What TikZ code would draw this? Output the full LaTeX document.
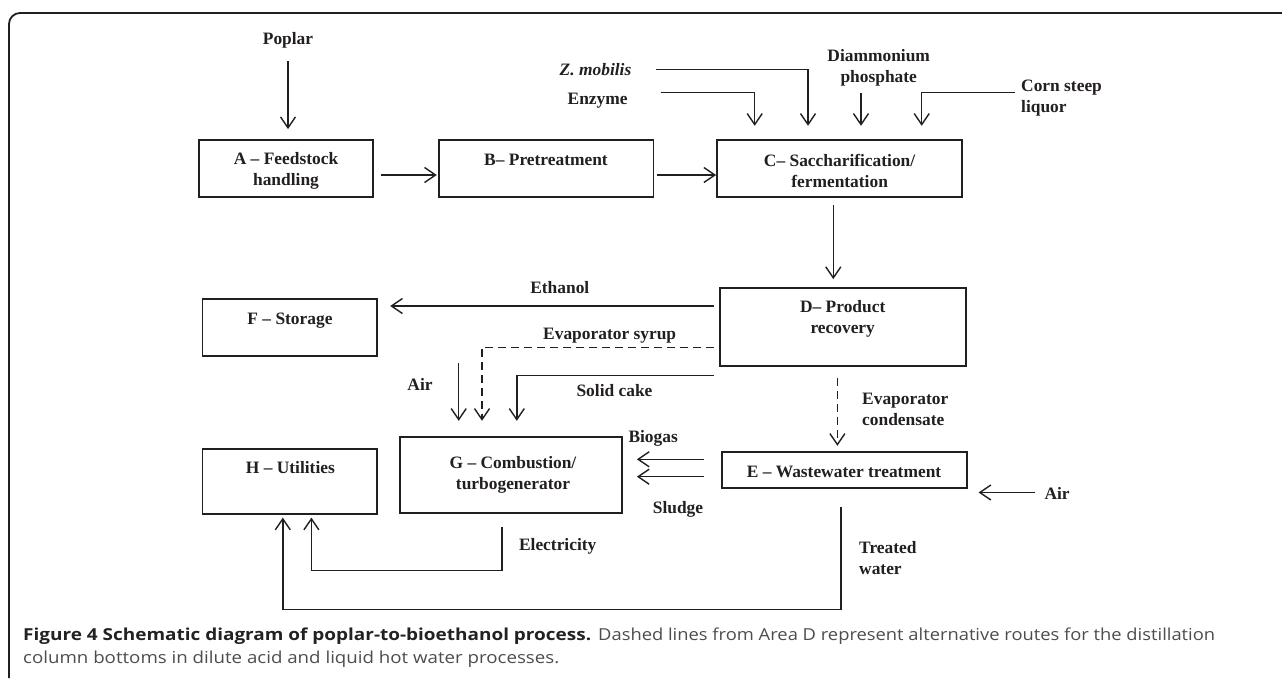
\documentclass[tikz,border=0pt]{standalone}
\usepackage{graphicx}
\usepackage{fontspec}
\setmainfont{Liberation Serif}
\newfontfamily\capfont{Open Sans}
\usetikzlibrary{arrows.meta,calc}
\definecolor{ink}{HTML}{231F20}
\definecolor{capdark}{HTML}{222222}
\definecolor{capgray}{HTML}{4D4D4D}
\newlength\fitlen
\newcommand\capfit[2]{\settowidth\fitlen{#2}\pgfmathsetmacro\fitratio{#1/\fitlen}\scalebox{\fitratio}[1]{#2}}
\tikzset{
  box/.style={draw=ink, line width=1.8pt, inner sep=0pt, rectangle},
  txt/.style={font=\fontsize{17.4}{21}\selectfont\bfseries, text=ink, inner sep=0pt, align=center},
  arr/.style={draw=ink, line width=1.4pt, -{Straight Barb[length=11pt,width=15pt,line width=1.4pt]}},
  dsh/.style={dash pattern=on 8pt off 5pt},
  capnode/.style={inner sep=0pt, anchor=base west}
}
\begin{document}
\begin{tikzpicture}[x=1pt,y=-1pt]
\useasboundingbox (0,0) rectangle (1282,678);
\fill[white] (0,0) rectangle (1282,678);
% outer frame
\draw[line width=1.8pt, ink] (9,678) -- (9,24) arc[start angle=180, end angle=90, radius=11pt] -- (1282,13);

% boxes
\node[box, minimum width=174.6pt, minimum height=57pt]   (A) at (286,168.8) {};
\node[box, minimum width=214.5pt, minimum height=57pt]   (B) at (546.25,168.5) {};
\node[box, minimum width=245pt,   minimum height=57.3pt] (C) at (839.5,168.65) {};
\node[box, minimum width=245.7pt, minimum height=78.3pt] (D) at (842.75,326.85) {};
\node[box, minimum width=245.3pt, minimum height=36pt]   (E) at (844.35,470.3) {};
\node[box, minimum width=174.6pt, minimum height=56.7pt] (F) at (289.7,327.35) {};
\node[box, minimum width=222pt,   minimum height=76.6pt] (G) at (511,475) {};
\node[box, minimum width=174.6pt, minimum height=65.3pt] (H) at (289.7,481.65) {};

% box texts
\node[txt] (At) at (286,171) {A -- Feedstock\\handling};
\node[txt, anchor=base] (Bt) at (546,165) {B-- Pretreatment};
\node[txt] (Ct) at (839.6,171.2) {C-- Saccharification/\\fermentation};
\node[txt] (Dt) at (842.7,318.8) {D-- Product\\recovery};
\node[txt, anchor=base] (Et) at (844,477.7) {E -- Wastewater treatment};
\node[txt, anchor=base] (Ft) at (290,324.3) {F -- Storage};
\node[txt] (Gt) at (513,474.8) {G -- Combustion/\\turbogenerator};
\node[txt, anchor=base] (Ht) at (290.4,473.7) {H -- Utilities};

% stream labels
\node[txt, anchor=base] (poplar) at (288,44.3) {Poplar};
\node[txt, anchor=base, font=\fontsize{17.4}{21}\selectfont\bfseries\itshape] (zmob) at (595.5,75.3) {Z. mobilis};
\node[txt, anchor=base] (enz) at (597.6,104.3) {Enzyme};
\node[txt] (dap) at (878.7,68.2) {Diammonium\\phosphate};
\node[txt, anchor=west, align=left] (csl) at (1021,98.2) {Corn steep\\liquor};
\node[txt, anchor=base] (eth) at (559.8,293.3) {Ethanol};
\node[txt, anchor=base west] (syr) at (543,339.3) {Evaporator syrup};
\node[txt, anchor=base] (airL) at (420,390) {Air};
\node[txt, anchor=base] (cake) at (614.5,396) {Solid cake};
\node[txt, anchor=west, align=left] (cond) at (862,409) {Evaporator\\condensate};
\node[txt, anchor=base west] (bio) at (628.3,442.7) {Biogas};
\node[txt, anchor=base] (slu) at (678,513.3) {Sludge};
\node[txt, anchor=base west] (airR) at (1044.3,499.3) {Air};
\node[txt, anchor=base] (elec) at (557.7,550) {Electricity};
\node[txt, anchor=west, align=left] (tw) at (859,558.2) {Treated\\water};

% free ends
\coordinate (pS) at (288,61);
\coordinate (zS) at (656,69.3);
\coordinate (eS) at (660.5,92.7);
\coordinate (dS) at (861,93.3);
\coordinate (cS) at (1015,92.7);
\coordinate (aS) at (458.7,363.3);
\coordinate (arS) at (1035,492.5);

% connectors
\draw[arr, shorten >=10.3pt] (pS) -- (A.north -| pS);
\draw[arr, shorten <=6.7pt, shorten >=1.3pt] (A.east |- 0,175) -- (B.west |- 0,175);
\draw[arr, shorten <=2.5pt] (B.east |- 0,175) -- (C.west |- 0,175);
\draw[arr, shorten >=13.3pt] (zS) -| (C.north -| 808,0);
\draw[arr, shorten >=13.3pt] (eS) -| (C.north -| 754.7,0);
\draw[arr, shorten >=13.3pt] (dS) -- (C.north -| dS);
\draw[arr, shorten >=13.3pt] (cS) -| (C.north -| 921.7,0);
\draw[arr, shorten <=6.7pt, shorten >=7.7pt] (C.south -| 833.3,0) -- (D.north -| 833.3,0);
\draw[arr, shorten <=4.9pt, shorten >=12.3pt] (D.west |- 0,306) -- (F.east |- 0,306);
\draw[arr, dsh, shorten <=4.9pt, shorten >=15pt] (D.west |- 0,347.3) -| (G.north -| 482,0);
\draw[arr, shorten <=4.9pt, shorten >=15pt] (D.west |- 0,375.7) -| (G.north -| 516.8,0);
\draw[arr, shorten >=15pt] (aS) -- (G.north -| aS);
\draw[arr, dsh, shorten <=10.7pt, shorten >=5.6pt] (D.south -| 837.4,0) -- (E.north -| 837.4,0);
\draw[arr, shorten <=16.7pt, shorten >=14pt] (E.west |- 0,459.3) -- (G.east |- 0,459.3);
\draw[arr, shorten <=16.7pt, shorten >=14pt] (E.west |- 0,476.7) -- (G.east |- 0,476.7);
\draw[arr, shorten >=10.7pt] (arS) -- (E.east |- arS);
\draw[arr, shorten <=12.7pt, shorten >=2.4pt] (G.south -| 502,0) -- (502,570.7) -| (H.south -| 311.4,0);
\draw[arr, shorten <=17.7pt, shorten >=2.4pt] (E.south -| 840.9,0) -- (840.9,609.3) -| (H.south -| 282.8,0);

% caption
\node[capnode] (cap1a) at (23,640) {\capfit{568}{\capfont\fontsize{16.5}{22}\selectfont\bfseries\color{capdark}Figure 4 Schematic diagram of poplar-to-bioethanol process.}};
\node[capnode] (cap1b) at (598,640) {\capfit{617}{\capfont\fontsize{16.5}{22}\selectfont\color{capgray}Dashed lines from Area D represent alternative routes for the distillation}};
\node[capnode] (cap2) at (23,663.5) {\capfit{536}{\capfont\fontsize{16.5}{22}\selectfont\color{capgray}column bottoms in dilute acid and liquid hot water processes.}};
\end{tikzpicture}
\end{document}
